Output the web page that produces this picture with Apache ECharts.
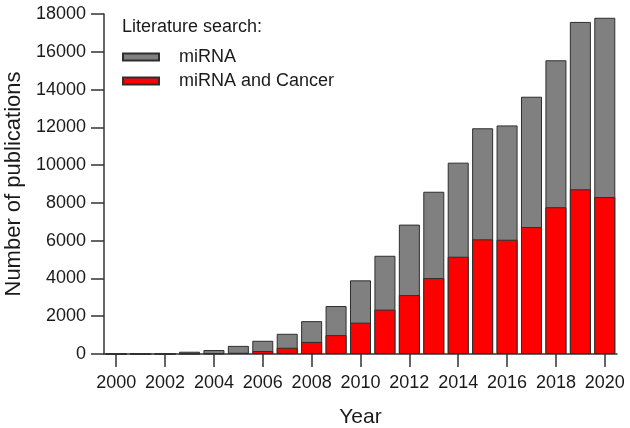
<!DOCTYPE html>
<html>
<head>
<meta charset="utf-8">
<script src="https://cdn.jsdelivr.net/npm/echarts@6/dist/echarts.min.js"></script>
<style>html,body{margin:0;padding:0;background:#fff}#c{width:630px;height:428px}</style>
</head>
<body>
<div id="c"></div>
<script>
var years = ['2000','2001','2002','2003','2004','2005','2006','2007','2008','2009','2010','2011','2012','2013','2014','2015','2016','2017','2018','2019','2020'];
var mirna = [0, 0, 0, 120, 210, 430, 700, 1070, 1740, 2540, 3900, 5200, 6850, 8590, 10130, 11950, 12100, 13620, 15550, 17580, 17800];
var mirnaCancer = [0, 0, 0, 10, 25, 65, 160, 330, 640, 1000, 1660, 2350, 3120, 4020, 5150, 6070, 6050, 6720, 7770, 8720, 8310];
var yTicks = {min: 0, max: 18000, interval: 2000};

var FONT = 'Liberation Sans, Arial, sans-serif';
var chart = echarts.init(document.getElementById('c'), null, {renderer: 'canvas'});
chart.setOption({
  animation: false,
  backgroundColor: '#fff',
  textStyle: {fontFamily: FONT},
  grid: {left: 104, right: 13, top: 14, bottom: 74, containLabel: false, outerBoundsMode: 'none'},
  title: {
    text: 'Literature search:', left: 117, top: 13,
    textStyle: {fontFamily: FONT, fontSize: 18, fontWeight: 'normal', color: '#1a1a1a'}
  },
  legend: {
    orient: 'vertical', left: 117, top: 43, itemWidth: 36, itemHeight: 7, itemGap: 6,
    icon: 'rect',
    textStyle: {fontFamily: FONT, fontSize: 18, color: '#1a1a1a', padding: [0, 0, 0, 15]},
    data: ['miRNA', 'miRNA and Cancer']
  },
  xAxis: {
    type: 'category', data: years, boundaryGap: true,
    name: 'Year', nameLocation: 'middle', nameGap: 53,
    nameTextStyle: {fontFamily: FONT, fontSize: 21, color: '#1a1a1a'},
    axisLine: {show: true, lineStyle: {color: '#333', width: 1.5}},
    axisTick: {show: true, interval: 1, alignWithLabel: true, length: 13, lineStyle: {color: '#333', width: 1.5}},
    axisLabel: {interval: 1, fontFamily: FONT, fontSize: 18, color: '#1a1a1a', margin: 20}
  },
  yAxis: {
    type: 'value', min: yTicks.min, max: yTicks.max, interval: yTicks.interval,
    name: 'Number of publications', nameLocation: 'middle', nameGap: 73,
    nameTextStyle: {fontFamily: FONT, fontSize: 22, color: '#1a1a1a'},
    axisLine: {show: true, lineStyle: {color: '#333', width: 1.5}},
    axisTick: {show: true, length: 13, lineStyle: {color: '#333', width: 1.5}},
    axisLabel: {fontFamily: FONT, fontSize: 18, color: '#1a1a1a', margin: 18,
      formatter: function (v) { return String(v); }},
    splitLine: {show: false}
  },
  series: [
    {
      name: 'miRNA', type: 'bar', data: mirna, barWidth: '86%', barGap: '-100%',
      itemStyle: {color: '#808080', borderColor: '#2e2e2e', borderWidth: 1}
    },
    {
      name: 'miRNA and Cancer', type: 'bar', data: mirnaCancer, barWidth: '86%', barGap: '-100%',
      itemStyle: {color: '#ff0000', borderColor: '#2e2e2e', borderWidth: 1}
    }
  ]
});
</script>
</body>
</html>
